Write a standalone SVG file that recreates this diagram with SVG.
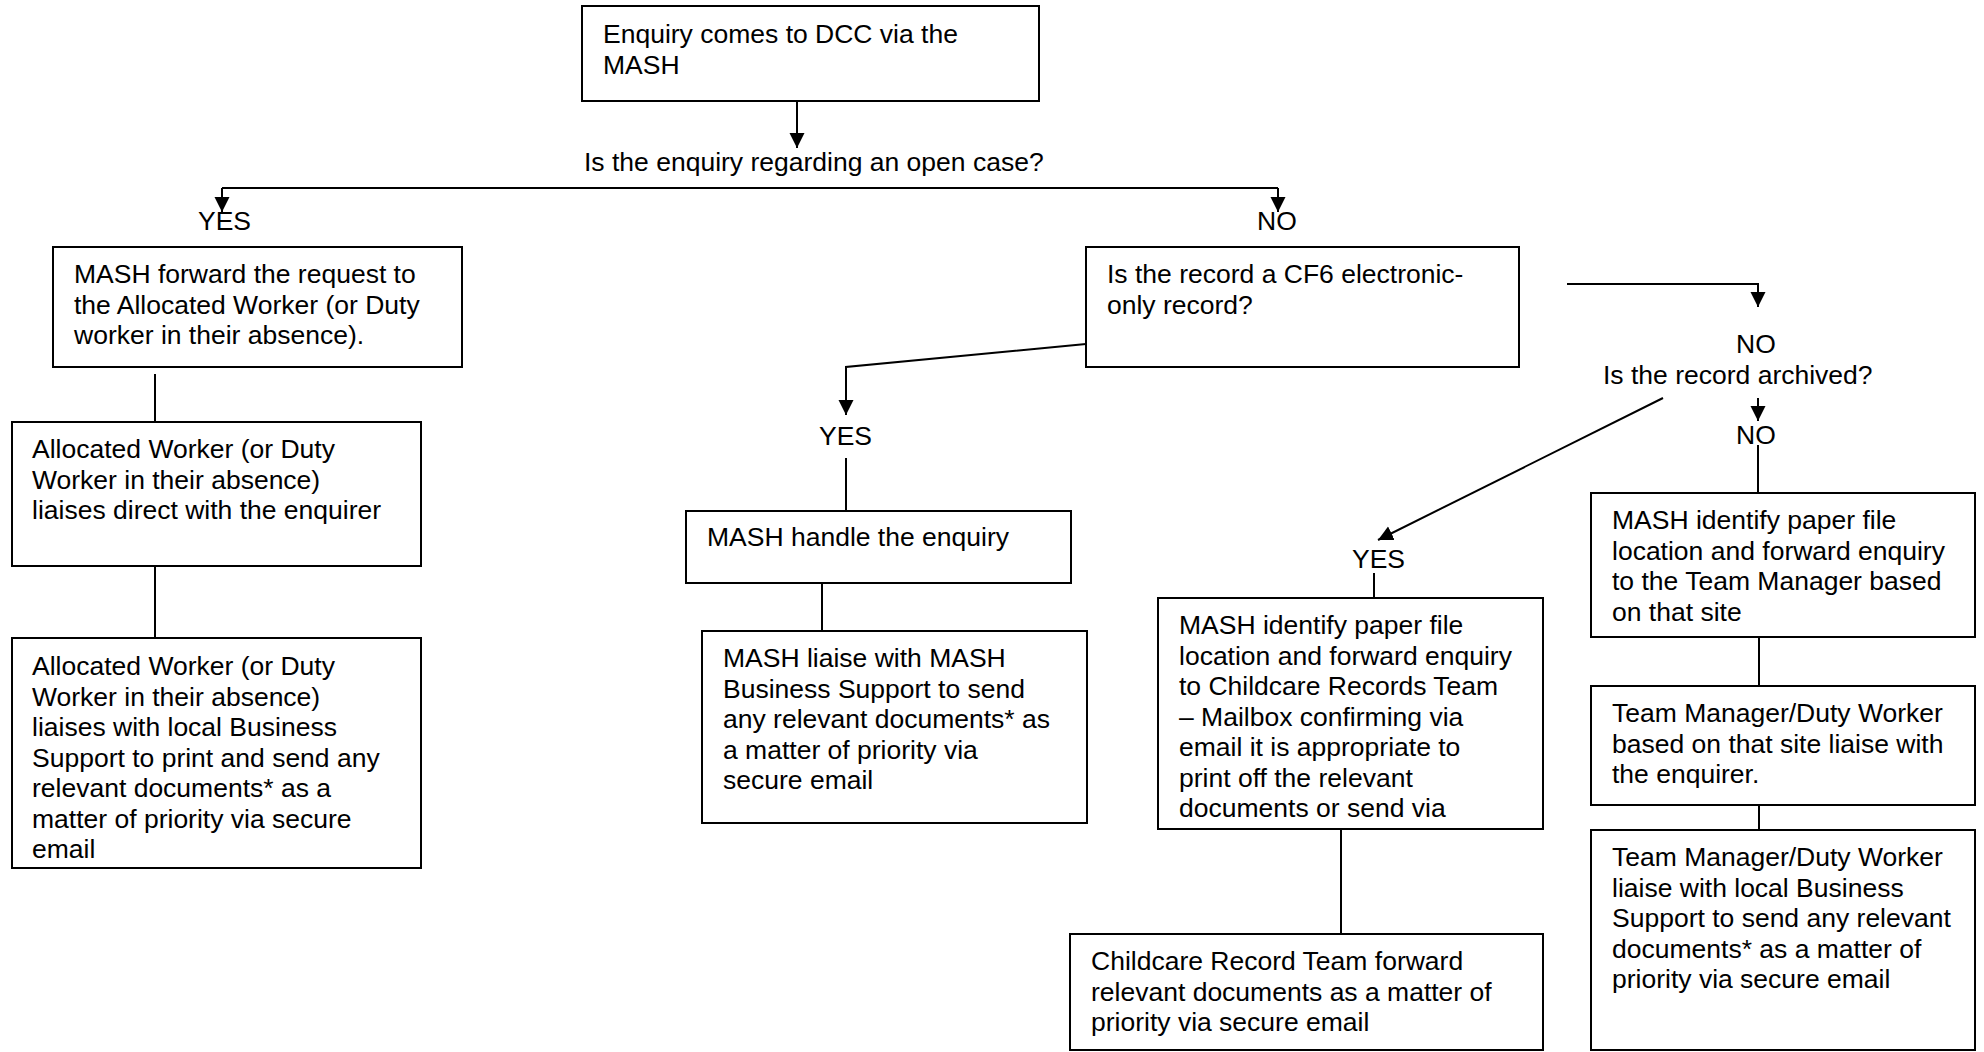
<svg xmlns="http://www.w3.org/2000/svg" width="1984" height="1052" viewBox="0 0 1984 1052">
<defs>
<style>
.box{fill:#fff;stroke:#000;stroke-width:2}
.t{font-family:"Liberation Sans",Arial,sans-serif;font-size:26.5px;fill:#000}
.c{fill:none;stroke:#000;stroke-width:2}
</style>
<marker id="ah" markerUnits="userSpaceOnUse" markerWidth="16" markerHeight="16" refX="15" refY="7.5" orient="auto">
<path d="M0,0 L15,7.5 L0,15 z" fill="#000"/>
</marker>
</defs>
<rect width="1984" height="1052" fill="#fff"/>

<g id="connectors">
<path class="c" d="M797,101 V148" marker-end="url(#ah)"/>
<path class="c" d="M222,188 H1278"/>
<path class="c" d="M222,188 V212" marker-end="url(#ah)"/>
<path class="c" d="M1278,188 V212" marker-end="url(#ah)"/>
<path class="c" d="M155,374 V422"/>
<path class="c" d="M155,566 V638"/>
<path class="c" d="M1086,344 L846,367 V415" marker-end="url(#ah)"/>
<path class="c" d="M846,458 V511"/>
<path class="c" d="M822,583 V631"/>
<path class="c" d="M1567,284 H1758 V307" marker-end="url(#ah)"/>
<path class="c" d="M1758,398 V421" marker-end="url(#ah)"/>
<path class="c" d="M1758,445 V493"/>
<path class="c" d="M1663,398 L1378,540" marker-end="url(#ah)"/>
<path class="c" d="M1374,573 V598"/>
<path class="c" d="M1341,829 V934"/>
<path class="c" d="M1759,637 V686"/>
<path class="c" d="M1759,805 V830"/>
</g>

<g id="labels">
<text class="t" x="584" y="171">Is the enquiry regarding an open case?</text>
<text class="t" x="198" y="230">YES</text>
<text class="t" x="1257" y="230">NO</text>
<text class="t" x="819" y="445">YES</text>
<text class="t" x="1736" y="353">NO</text>
<text class="t" x="1603" y="384">Is the record archived?</text>
<text class="t" x="1736" y="444">NO</text>
<text class="t" x="1352" y="568">YES</text>
</g>

<g id="n-enquiry">
<rect class="box" x="582" y="6" width="457" height="95"/>
<text class="t" x="603" y="43">Enquiry comes to DCC via the</text>
<text class="t" x="603" y="73.5">MASH</text>
</g>

<g id="n-mash-forward">
<rect class="box" x="53" y="247" width="409" height="120"/>
<text class="t" x="74" y="283">MASH forward the request to</text>
<text class="t" x="74" y="313.5">the Allocated Worker (or Duty</text>
<text class="t" x="74" y="344">worker in their absence).</text>
</g>

<g id="n-aw-liaise">
<rect class="box" x="12" y="422" width="409" height="144"/>
<text class="t" x="32" y="458">Allocated Worker (or Duty</text>
<text class="t" x="32" y="488.5">Worker in their absence)</text>
<text class="t" x="32" y="519">liaises direct with the enquirer</text>
</g>

<g id="n-aw-bs">
<rect class="box" x="12" y="638" width="409" height="230"/>
<text class="t" x="32" y="675">Allocated Worker (or Duty</text>
<text class="t" x="32" y="705.5">Worker in their absence)</text>
<text class="t" x="32" y="736">liaises with local Business</text>
<text class="t" x="32" y="766.5">Support to print and send any</text>
<text class="t" x="32" y="797">relevant documents* as a</text>
<text class="t" x="32" y="827.5">matter of priority via secure</text>
<text class="t" x="32" y="858">email</text>
</g>

<g id="n-cf6">
<rect class="box" x="1086" y="247" width="433" height="120"/>
<text class="t" x="1107" y="283">Is the record a CF6 electronic-</text>
<text class="t" x="1107" y="313.5">only record?</text>
</g>

<g id="n-mash-handle">
<rect class="box" x="686" y="511" width="385" height="72"/>
<text class="t" x="707" y="546">MASH handle the enquiry</text>
</g>

<g id="n-mash-liaise">
<rect class="box" x="702" y="631" width="385" height="192"/>
<text class="t" x="723" y="667">MASH liaise with MASH</text>
<text class="t" x="723" y="697.5">Business Support to send</text>
<text class="t" x="723" y="728">any relevant documents* as</text>
<text class="t" x="723" y="758.5">a matter of priority via</text>
<text class="t" x="723" y="789">secure email</text>
</g>

<g id="n-mash-crt">
<rect class="box" x="1158" y="598" width="385" height="231"/>
<text class="t" x="1179" y="634">MASH identify paper file</text>
<text class="t" x="1179" y="664.5">location and forward enquiry</text>
<text class="t" x="1179" y="695">to Childcare Records Team</text>
<text class="t" x="1179" y="725.5">– Mailbox confirming via</text>
<text class="t" x="1179" y="756">email it is appropriate to</text>
<text class="t" x="1179" y="786.5">print off the relevant</text>
<text class="t" x="1179" y="817">documents or send via</text>
</g>

<g id="n-crt-forward">
<rect class="box" x="1070" y="934" width="473" height="116"/>
<text class="t" x="1091" y="970">Childcare Record Team forward</text>
<text class="t" x="1091" y="1000.5">relevant documents as a matter of</text>
<text class="t" x="1091" y="1031">priority via secure email</text>
</g>

<g id="n-mash-tm">
<rect class="box" x="1591" y="493" width="384" height="144"/>
<text class="t" x="1612" y="529">MASH identify paper file</text>
<text class="t" x="1612" y="559.5">location and forward enquiry</text>
<text class="t" x="1612" y="590">to the Team Manager based</text>
<text class="t" x="1612" y="620.5">on that site</text>
</g>

<g id="n-tm-liaise">
<rect class="box" x="1591" y="686" width="384" height="119"/>
<text class="t" x="1612" y="722">Team Manager/Duty Worker</text>
<text class="t" x="1612" y="752.5">based on that site liaise with</text>
<text class="t" x="1612" y="783">the enquirer.</text>
</g>

<g id="n-tm-bs">
<rect class="box" x="1591" y="830" width="384" height="220"/>
<text class="t" x="1612" y="866">Team Manager/Duty Worker</text>
<text class="t" x="1612" y="896.5">liaise with local Business</text>
<text class="t" x="1612" y="927">Support to send any relevant</text>
<text class="t" x="1612" y="957.5">documents* as a matter of</text>
<text class="t" x="1612" y="988">priority via secure email</text>
</g>
</svg>
